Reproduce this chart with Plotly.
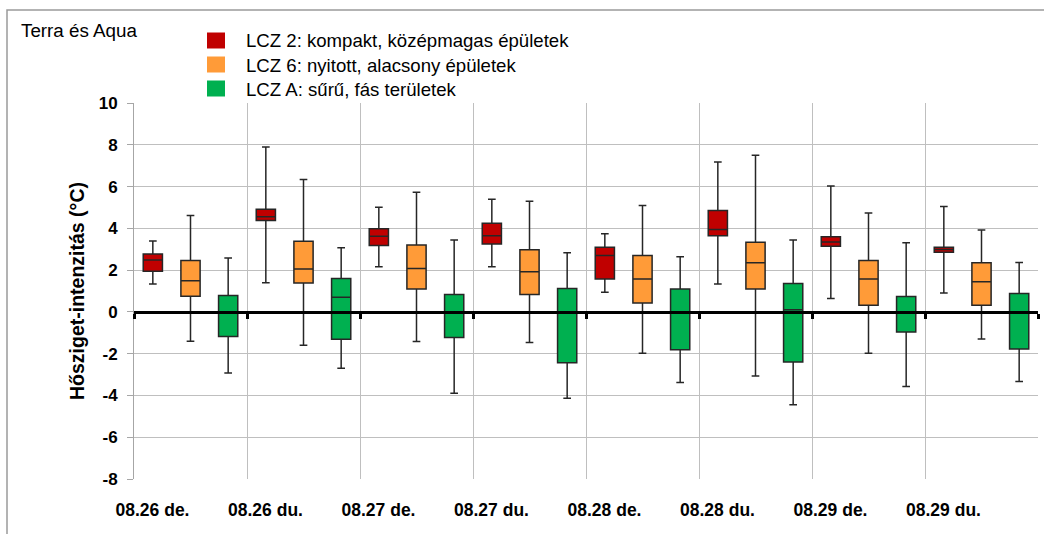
import plotly.graph_objects as go

categories = ["08.26 de.", "08.26 du.", "08.27 de.", "08.27 du.",
              "08.28 de.", "08.28 du.", "08.29 de.", "08.29 du."]

series_names = ["LCZ 2: kompakt, középmagas épületek",
                "LCZ 6: nyitott, alacsony épületek",
                "LCZ A: sűrű, fás területek"]

# LCZ 2
lcz2_low = [1.34, 1.39, 2.16, 2.16, 0.94, 1.34, 0.64, 0.91]
lcz2_q1 = [1.95, 4.38, 3.18, 3.25, 1.57, 3.65, 3.14, 2.86]
lcz2_med = [2.48, 4.56, 3.62, 3.65, 2.70, 3.95, 3.34, 2.99]
lcz2_q3 = [2.77, 4.91, 3.98, 4.24, 3.09, 4.85, 3.60, 3.09]
lcz2_high = [3.39, 7.89, 5.01, 5.39, 3.74, 7.17, 6.03, 5.04]

# LCZ 6
lcz6_low = [-1.41, -1.60, -1.42, -1.47, -1.98, -3.07, -1.98, -1.30]
lcz6_q1 = [0.75, 1.38, 1.09, 0.83, 0.42, 1.09, 0.32, 0.32]
lcz6_med = [1.49, 2.05, 2.08, 1.92, 1.57, 2.35, 1.57, 1.44]
lcz6_q3 = [2.46, 3.38, 3.20, 2.98, 2.70, 3.33, 2.46, 2.35]
lcz6_high = [4.61, 6.34, 5.73, 5.30, 5.09, 7.50, 4.74, 3.92]

# LCZ A
lcza_low = [-2.93, -2.70, -3.89, -4.14, -3.38, -4.45, -3.57, -3.33]
lcza_q1 = [-1.18, -1.31, -1.23, -2.43, -1.81, -2.40, -0.96, -1.78]
lcza_med = [0.00, 0.70, 0.00, 0.00, 0.00, 0.10, 0.00, 0.00]
lcza_q3 = [0.78, 1.60, 0.83, 1.12, 1.09, 1.36, 0.74, 0.88]
lcza_high = [2.58, 3.07, 3.44, 2.83, 2.64, 3.44, 3.31, 2.37]

colors = ["#C00000", "#FF9B38", "#00B050"]
y_ticks = [-8, -6, -4, -2, 0, 2, 4, 6, 8, 10]
y_ticktext = [str(v) for v in y_ticks]

FONT = "Liberation Sans, Arial, sans-serif"

# pixel geometry of plot area
L, R, T, B = 134, 1038, 103, 479
W, H = R - L, B - T


def px(x):
    return (x - L) / W


def py(y):
    return (B - y) / H


fig = go.Figure()
data = [
    (lcz2_low, lcz2_q1, lcz2_med, lcz2_q3, lcz2_high),
    (lcz6_low, lcz6_q1, lcz6_med, lcz6_q3, lcz6_high),
    (lcza_low, lcza_q1, lcza_med, lcza_q3, lcza_high),
]
for name, col, (lo, q1, md, q3, hi) in zip(series_names, colors, data):
    fig.add_trace(go.Box(
        x=categories, lowerfence=lo, q1=q1, median=md, q3=q3, upperfence=hi,
        name=name, fillcolor=col, line=dict(color="#262626", width=1.5),
        whiskerwidth=0.4, boxpoints=False, hoverinfo="skip", showlegend=False,
    ))

fig.update_layout(
    width=1044, height=534,
    margin=dict(l=L, r=1044 - R, t=T, b=534 - B),
    paper_bgcolor="white", plot_bgcolor="white",
    boxmode="group", boxgap=0.0, boxgroupgap=0.49,
    font=dict(family=FONT, color="black"),
    xaxis=dict(
        type="category", categoryarray=categories, range=[-0.5, 7.5],
        showgrid=True, gridcolor="#BFBFBF", gridwidth=1,
        tickson="boundaries", ticks="", showline=False,
        tickfont=dict(size=17.5, weight="bold", family=FONT),
        ticklabelstandoff=18, ticklabelshift=-38, zeroline=False,
    ),
    xaxis2=dict(
        overlaying="x", anchor="free", position=8 / 18, type="linear",
        range=[-0.5, 7.5], tickvals=[i - 0.5 for i in range(9)],
        showticklabels=False, ticks="outside", ticklen=5, tickwidth=3,
        tickcolor="black", showline=True, linecolor="black", linewidth=3,
        showgrid=False, zeroline=False, layer="above traces",
    ),
    yaxis=dict(
        range=[-8, 10], tickvals=y_ticks, ticktext=y_ticktext,
        showgrid=True, gridcolor="#BFBFBF",
        gridwidth=1, zeroline=False, showline=True, linecolor="#A6A6A6",
        ticks="outside", ticklen=6, tickcolor="#A6A6A6",
        tickfont=dict(size=17, weight="bold", family=FONT),
        ticklabelstandoff=6,
    ),
)

# invisible trace to activate xaxis2
fig.add_trace(go.Scatter(x=[None], y=[None], xaxis="x2", showlegend=False, hoverinfo="skip"))

shapes = []
# outer chart border
shapes.append(dict(type="rect", xref="paper", yref="paper",
                   x0=px(7), x1=px(1100), y0=py(600), y1=py(10),
                   line=dict(color="#9A9A9A", width=1.5), fillcolor="rgba(0,0,0,0)",
                   layer="above"))
# legend background (covers grid)
shapes.append(dict(type="rect", xref="paper", yref="paper",
                   x0=px(226), x1=px(655), y0=py(115), y1=py(20),
                   line=dict(width=0), fillcolor="white", layer="between"))
annotations = []
rows = [40.5, 64.5, 88.5]
for name, col, yc in zip(series_names, colors, rows):
    shapes.append(dict(type="rect", xref="paper", yref="paper",
                       x0=px(207), x1=px(225), y0=py(yc + 8), y1=py(yc - 8),
                       line=dict(width=0), fillcolor=col, layer="above"))
    annotations.append(dict(xref="paper", yref="paper", x=px(244), y=py(yc + 0.5),
                            xanchor="left", yanchor="middle", showarrow=False,
                            text=name, font=dict(size=18.6, family=FONT, color="black")))

annotations.append(dict(xref="paper", yref="paper", x=px(19), y=py(30),
                        xanchor="left", yanchor="middle", showarrow=False,
                        text="Terra és Aqua", font=dict(size=18.8, family=FONT, color="black")))
annotations.append(dict(xref="paper", yref="paper", x=px(77), y=py(291),
                        xanchor="center", yanchor="middle", showarrow=False, textangle=-90,
                        text="Hősziget-intenzitás (°C)",
                        font=dict(size=19.5, family=FONT, color="black", weight="bold")))

fig.update_layout(shapes=shapes, annotations=annotations)

fig.write_html("out.html")
